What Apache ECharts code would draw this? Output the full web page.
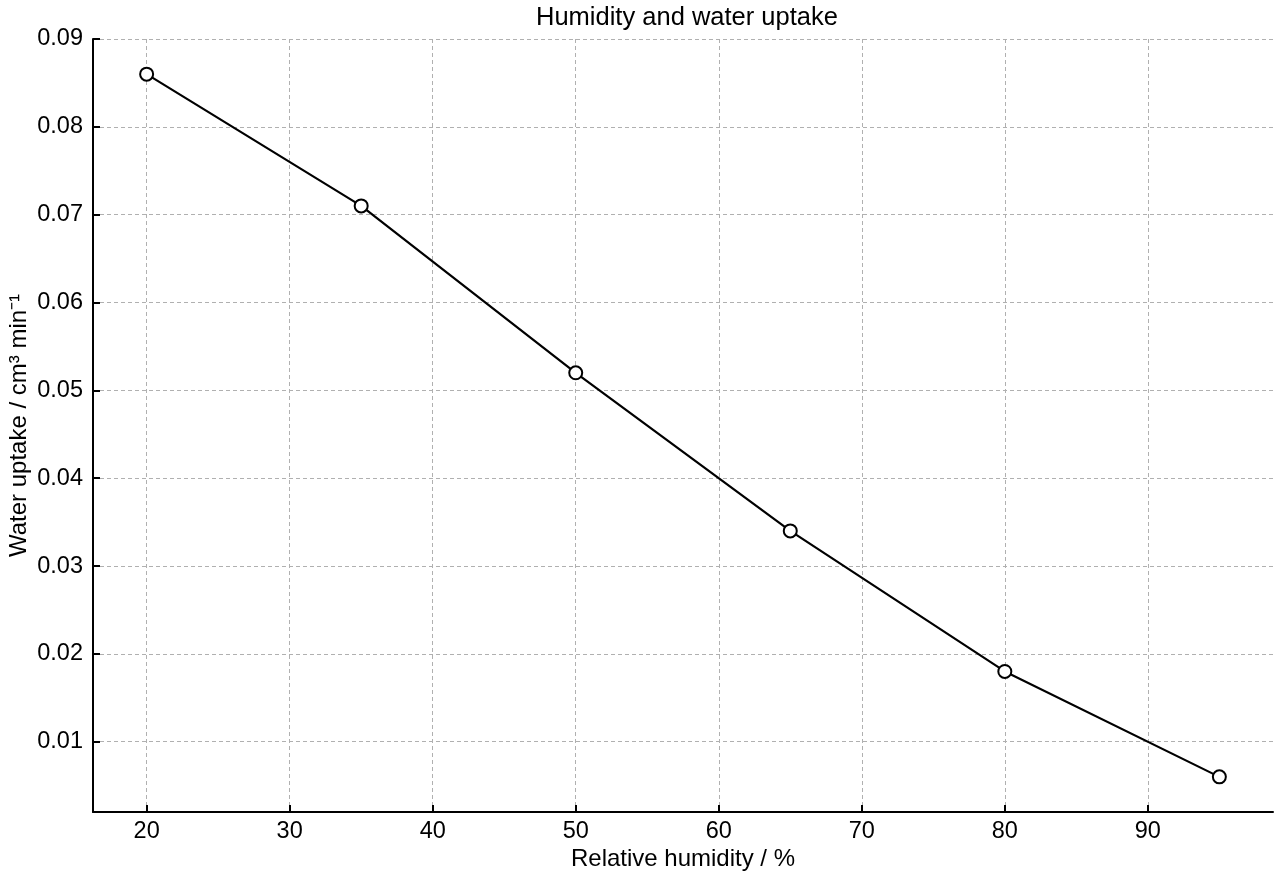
<!DOCTYPE html>
<html>
<head>
<meta charset="utf-8">
<title>Humidity and water uptake</title>
<script src="https://cdn.jsdelivr.net/npm/echarts@6/dist/echarts.min.js"></script>
<style>
  html, body { margin: 0; padding: 0; background: #fff; }
  #chart { width: 1280px; height: 880px; }
</style>
</head>
<body>
<div id="chart"></div>
<script>
// data
const humidity = [20, 35, 50, 65, 80, 95];
const uptake = [0.086, 0.071, 0.052, 0.034, 0.018, 0.006];
const xTicks = [20, 30, 40, 50, 60, 70, 80, 90];
const yTicks = [0.01, 0.02, 0.03, 0.04, 0.05, 0.06, 0.07, 0.08, 0.09];

const font = "'Liberation Sans', Arial, Helvetica, sans-serif";
const gridLine = { show: true, lineStyle: { color: "#b0b0b0", type: [4, 3], width: 1 } };

const chart = echarts.init(document.getElementById("chart"));

chart.setOption({
  animation: false,
  textStyle: { fontFamily: font, color: "#000" },
  title: {
    text: "Humidity and water uptake",
    left: 536,
    top: 5,
    padding: 0,
    textStyle: { fontFamily: font, fontSize: 25.5, fontWeight: "normal", color: "#000" }
  },
  grid: { left: 93, right: 7, top: 39, bottom: 68, outerBoundsMode: "none", containLabel: false },
  xAxis: {
    type: "value",
    min: 16.25, // matplotlib-style 5% margins
    max: 98.75,
    name: "Relative humidity / %",
    nameLocation: "middle",
    nameGap: 35,
    nameMoveOverlap: false,
    nameTextStyle: { fontFamily: font, fontSize: 24, color: "#000" },
    axisLine: { show: true, onZero: false, lineStyle: { color: "#000", width: 2 } },
    axisTick: { show: true, inside: true, length: 7, customValues: xTicks, lineStyle: { color: "#000", width: 2 } },
    axisLabel: { customValues: xTicks, margin: 8, fontFamily: font, fontSize: 23.5, color: "#000" },
    splitLine: gridLine
  },
  yAxis: {
    type: "value",
    min: 0.002,
    max: 0.09,
    name: "Water uptake / cm³ min⁻¹",
    nameLocation: "middle",
    nameGap: 62,
    nameMoveOverlap: false,
    nameTextStyle: { fontFamily: font, fontSize: 24, color: "#000" },
    axisLine: { show: true, onZero: false, lineStyle: { color: "#000", width: 2 } },
    axisTick: { show: true, inside: true, length: 7, customValues: yTicks, lineStyle: { color: "#000", width: 2 } },
    axisLabel: {
      customValues: yTicks,
      margin: 10,
      fontFamily: font,
      fontSize: 23.5,
      color: "#000",
      formatter: v => v.toFixed(2)
    },
    splitLine: gridLine
  },
  series: [
    {
      type: "line",
      data: humidity.map((h, i) => [h, uptake[i]]),
      symbol: "circle",
      symbolSize: 13,
      lineStyle: { color: "#000", width: 2.2 },
      itemStyle: { color: "#fff", borderColor: "#000", borderWidth: 2 }
    }
  ]
});
</script>
</body>
</html>
